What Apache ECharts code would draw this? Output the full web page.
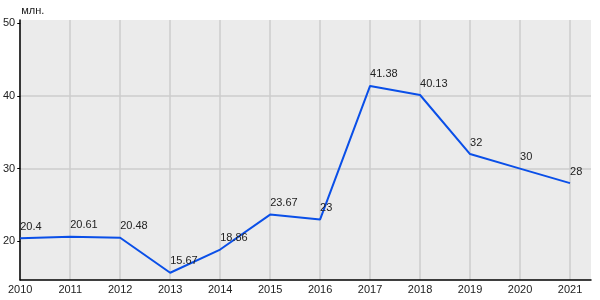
<!DOCTYPE html>
<html>
<head>
<meta charset="utf-8">
<script src="https://cdn.jsdelivr.net/npm/echarts@6/dist/echarts.min.js"></script>
<style>
html,body{margin:0;padding:0;background:#fff;}
#c{width:600px;height:300px;}
</style>
</head>
<body>
<div id="c"></div>
<script>
var years = [2010, 2011, 2012, 2013, 2014, 2015, 2016, 2017, 2018, 2019, 2020, 2021];
var values = [20.4, 20.61, 20.48, 15.67, 18.86, 23.67, 23, 41.38, 40.13, 32, 30, 28];
var yTicks = [20, 30, 40, 50];
var unitLabel = 'млн.';

var chart = echarts.init(document.getElementById('c'), null, {renderer: 'canvas'});
var font = 'Liberation Sans, Arial, sans-serif';
chart.setOption({
  animation: false,
  backgroundColor: '#ffffff',
  grid: {left: 20, right: 9, top: 20, bottom: 20, show: true, backgroundColor: '#ebebeb', borderWidth: 0},
  xAxis: {
    type: 'value',
    min: 2010,
    max: 2021.42,
    interval: 1,
    axisLine: {show: true, onZero: false, lineStyle: {color: '#000', width: 1.5}},
    axisTick: {show: false},
    axisLabel: {
      customValues: years,
      color: '#222', fontFamily: font, fontSize: 11, margin: 4,
      formatter: function (v) { return String(v); }
    },
    splitLine: {show: true, showMaxLine: false, lineStyle: {color: '#cccccc', width: 1.5}}
  },
  yAxis: {
    type: 'value',
    min: 14.67,
    max: 50.45,
    name: unitLabel,
    nameLocation: 'end',
    nameGap: 4,
    nameTextStyle: {color: '#222', fontFamily: font, fontSize: 11, align: 'left', padding: [0, 0, 0, 1]},
    axisLine: {show: true, lineStyle: {color: '#000', width: 1.5}},
    axisTick: {show: true, customValues: yTicks, length: 3, lineStyle: {color: '#000', width: 1}},
    axisLabel: {customValues: yTicks, color: '#222', fontFamily: font, fontSize: 11, margin: 5},
    splitLine: {show: true, showMaxLine: false, showMinLine: false, lineStyle: {color: '#cccccc', width: 1.5}}
  },
  series: [{
    type: 'line',
    data: years.map(function (y, i) { return [y, values[i]]; }),
    symbol: 'circle',
    symbolSize: 2,
    showSymbol: true,
    showAllSymbol: true,
    itemStyle: {color: 'rgba(0,0,0,0)', borderWidth: 0},
    lineStyle: {color: '#0a4fe8', width: 2},
    label: {
      show: true,
      position: 'top',
      align: 'left',
      distance: 5,
      color: '#222',
      fontFamily: font,
      fontSize: 11,
      formatter: function (p) { return String(p.value[1]); }
    },
    labelLayout: {hideOverlap: false}
  }]
});
</script>
</body>
</html>
